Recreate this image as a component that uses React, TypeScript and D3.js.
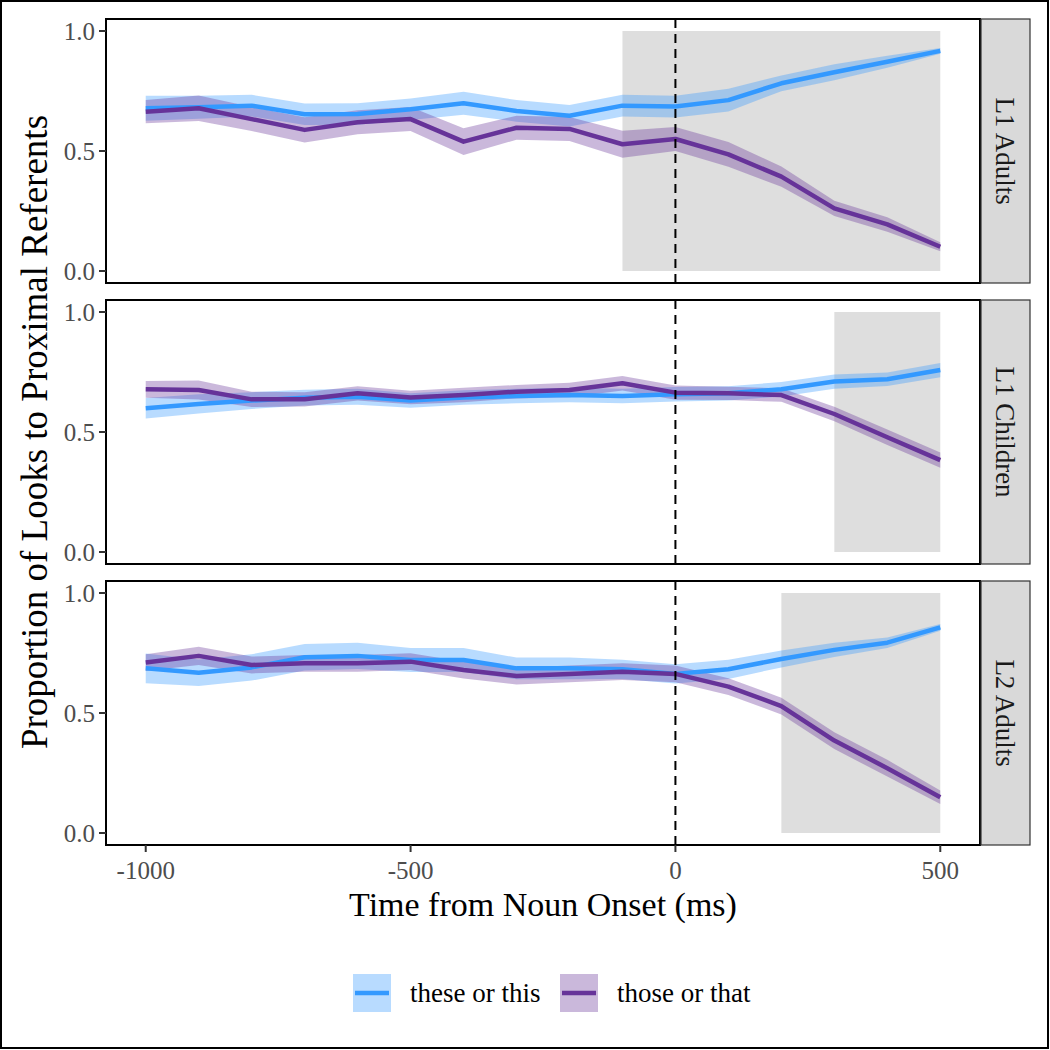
import React from "react";
import * as d3 from "d3";

const times = [-1000, -900, -800, -700, -600, -500, -400, -300, -200, -100, 0, 100, 200, 300, 400, 500];
const groups = ["L1 Adults", "L1 Children", "L2 Adults"];
const seriesNames = ["these or this", "those or that"];
const xTicks = [-1000, -500, 0, 500];
const yTicks = [0, 0.5, 1];
const yTickLabels = ["0.0", "0.5", "1.0"];
const windowStart = [-100, 300, 200];
const windowEnd = [500, 500, 500];

const l1AdultsThese = [0.678, 0.682, 0.689, 0.653, 0.654, 0.674, 0.699, 0.667, 0.647, 0.689, 0.685, 0.712, 0.782, 0.828, 0.872, 0.917];
const l1AdultsThose = [0.664, 0.678, 0.633, 0.588, 0.62, 0.633, 0.539, 0.597, 0.592, 0.528, 0.55, 0.486, 0.393, 0.261, 0.194, 0.101];
const l1ChildrenThese = [0.599, 0.617, 0.631, 0.643, 0.647, 0.631, 0.644, 0.65, 0.654, 0.65, 0.657, 0.661, 0.678, 0.71, 0.72, 0.758];
const l1ChildrenThose = [0.678, 0.675, 0.636, 0.636, 0.661, 0.644, 0.654, 0.668, 0.675, 0.703, 0.664, 0.661, 0.654, 0.575, 0.478, 0.383];
const l2AdultsThese = [0.686, 0.668, 0.69, 0.732, 0.738, 0.721, 0.721, 0.686, 0.686, 0.682, 0.663, 0.682, 0.725, 0.763, 0.793, 0.857];
const l2AdultsThose = [0.71, 0.738, 0.7, 0.707, 0.707, 0.714, 0.679, 0.654, 0.663, 0.672, 0.663, 0.61, 0.529, 0.385, 0.27, 0.149];

const l1AdultsTheseCI = [0.052, 0.048, 0.045, 0.045, 0.045, 0.045, 0.048, 0.045, 0.045, 0.045, 0.045, 0.047, 0.033, 0.033, 0.025, 0.012];
const l1AdultsThoseCI = [0.048, 0.053, 0.05, 0.053, 0.05, 0.05, 0.056, 0.05, 0.05, 0.056, 0.05, 0.052, 0.042, 0.032, 0.03, 0.019];
const l1ChildrenTheseCI = [0.043, 0.04, 0.035, 0.033, 0.033, 0.03, 0.03, 0.03, 0.03, 0.03, 0.03, 0.03, 0.03, 0.03, 0.028, 0.03];
const l1ChildrenThoseCI = [0.035, 0.04, 0.032, 0.03, 0.03, 0.028, 0.03, 0.028, 0.03, 0.03, 0.03, 0.028, 0.028, 0.03, 0.032, 0.032];
const l2AdultsTheseCI = [0.062, 0.055, 0.055, 0.055, 0.055, 0.05, 0.05, 0.045, 0.045, 0.04, 0.04, 0.04, 0.035, 0.03, 0.022, 0.014];
const l2AdultsThoseCI = [0.035, 0.038, 0.035, 0.035, 0.035, 0.035, 0.035, 0.035, 0.035, 0.035, 0.035, 0.035, 0.035, 0.035, 0.035, 0.028];

const panelData = [
  { these: l1AdultsThese, those: l1AdultsThose, theseCI: l1AdultsTheseCI, thoseCI: l1AdultsThoseCI },
  { these: l1ChildrenThese, those: l1ChildrenThose, theseCI: l1ChildrenTheseCI, thoseCI: l1ChildrenThoseCI },
  { these: l2AdultsThese, those: l2AdultsThose, theseCI: l2AdultsTheseCI, thoseCI: l2AdultsThoseCI },
];

const BLUE = "#3399FF";
const PURPLE = "#663399";
const FONT = "'Liberation Serif', 'DejaVu Serif', 'Times New Roman', serif";

const panelLeft = 106;
const panelRight = 980;
const panelTops = [19, 300, 581];
const panelH = 264;
const stripX = 981;
const stripW = 49;

export default function App() {
  const x = d3.scaleLinear().domain([-1075, 575]).range([panelLeft, panelRight]);

  const panels = groups.map((g, i) => {
    const top = panelTops[i];
    const y = d3.scaleLinear().domain([-0.05, 1.05]).range([top + panelH, top]);
    const d = panelData[i];
    const area = (vals: number[], ci: number[]) =>
      d3
        .area<number>()
        .x((_, k) => x(times[k]))
        .y0((v, k) => y(v - ci[k]))
        .y1((v, k) => y(v + ci[k]))(vals) as string;
    const line = (vals: number[]) =>
      d3
        .line<number>()
        .x((_, k) => x(times[k]))
        .y((v) => y(v))(vals) as string;
    return (
      <g key={g}>
        <rect x={panelLeft} y={top} width={panelRight - panelLeft} height={panelH} fill="#fff" />
        <rect
          x={x(windowStart[i])}
          y={y(1)}
          width={x(windowEnd[i]) - x(windowStart[i])}
          height={y(0) - y(1)}
          fill="#dedede"
        />
        <path d={area(d.these, d.theseCI)} fill={BLUE} fillOpacity={0.35} />
        <path d={area(d.those, d.thoseCI)} fill={PURPLE} fillOpacity={0.35} />
        <path d={line(d.these)} fill="none" stroke={BLUE} strokeWidth={4.5} strokeLinejoin="round" />
        <path d={line(d.those)} fill="none" stroke={PURPLE} strokeWidth={4.5} strokeLinejoin="round" />
        <line x1={x(0)} x2={x(0)} y1={top} y2={top + panelH} stroke="#000" strokeWidth={2} strokeDasharray="9,6" />
        <rect x={panelLeft} y={top} width={panelRight - panelLeft} height={panelH} fill="none" stroke="#000" strokeWidth={2} />
        {yTicks.map((t, k) => (
          <g key={t}>
            <line x1={panelLeft - 7} x2={panelLeft} y1={y(t)} y2={y(t)} stroke="#333" strokeWidth={2} />
            <text
              x={panelLeft - 11}
              y={y(t)}
              dy="0.35em"
              textAnchor="end"
              fontFamily={FONT}
              fontSize={25}
              fill="#4D4D4D"
            >
              {yTickLabels[k]}
            </text>
          </g>
        ))}
        <rect x={stripX} y={top} width={stripW} height={panelH} fill="#D9D9D9" stroke="#333" strokeWidth={1.2} />
        <text
          transform={`translate(${stripX + 15},${top + panelH / 2}) rotate(90)`}
          textAnchor="middle"
          fontFamily={FONT}
          fontSize={27}
          fill="#1A1A1A"
        >
          {g}
        </text>
      </g>
    );
  });

  const bottom = panelTops[2] + panelH;

  return (
    <svg width={1050} height={1050} style={{ position: "absolute", left: 0, top: 0, background: "#fff" }}>
      <rect x={0} y={0} width={1050} height={1050} fill="#fff" />
      {panels}
      {xTicks.map((t) => (
        <g key={t}>
          <line x1={x(t)} x2={x(t)} y1={bottom} y2={bottom + 7} stroke="#333" strokeWidth={2} />
          <text x={x(t)} y={bottom + 34} textAnchor="middle" fontFamily={FONT} fontSize={25} fill="#4D4D4D">
            {t}
          </text>
        </g>
      ))}
      <text x={(panelLeft + panelRight) / 2} y={916} textAnchor="middle" fontFamily={FONT} fontSize={34} fill="#000">
        Time from Noun Onset (ms)
      </text>
      <text
        transform={`translate(47,${(panelTops[0] + bottom) / 2}) rotate(-90)`}
        textAnchor="middle"
        fontFamily={FONT}
        fontSize={37}
        fill="#000"
      >
        Proportion of Looks to Proximal Referents
      </text>
      {seriesNames.map((s, i) => {
        const kx = [353, 560][i];
        const col = [BLUE, PURPLE][i];
        return (
          <g key={s}>
            <rect x={kx} y={974} width={38} height={38} fill={col} fillOpacity={0.35} />
            <line x1={kx + 2} x2={kx + 36} y1={993} y2={993} stroke={col} strokeWidth={4.5} />
            <text x={kx + 57} y={1002} fontFamily={FONT} fontSize={27} fill="#000">
              {s}
            </text>
          </g>
        );
      })}
      <rect x={1} y={1} width={1047} height={1047} fill="none" stroke="#000" strokeWidth={2} />
    </svg>
  );
}
